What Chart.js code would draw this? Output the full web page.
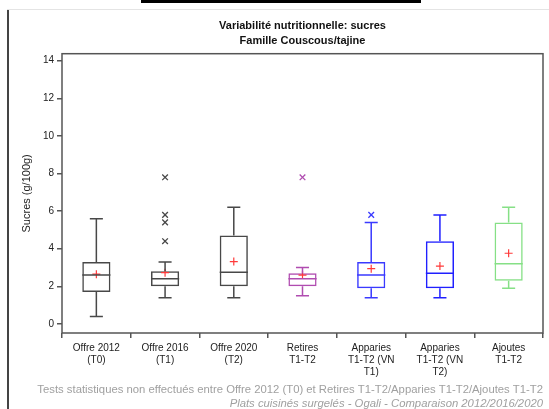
<!DOCTYPE html>
<html>
<head>
<meta charset="utf-8">
<script src="https://cdn.jsdelivr.net/npm/chart.js@4"></script>
<style>
  html, body { margin: 0; padding: 0; background: #fff; }
  #wrap { position: relative; width: 549px; height: 409px; overflow: hidden; }
  #c { position: absolute; left: 0; top: 0; }
  .deco { position: absolute; }
</style>
</head>
<body>
<div id="wrap">
  <canvas id="c" width="549" height="409"></canvas>
  <div class="deco" style="left:141px;top:0;width:280px;height:3px;background:#000;"></div>
  <div class="deco" style="left:7px;top:9px;width:542px;height:1px;background:#e4e4e4;"></div>
  <div class="deco" style="left:7px;top:10px;width:2px;height:399px;background:#444;"></div>
</div>
<script>
// ---- Data ----
const categories = ['Offre 2012 (T0)', 'Offre 2016 (T1)', 'Offre 2020 (T2)', 'Retires T1-T2',
                    'Apparies T1-T2 (VN T1)', 'Apparies T1-T2 (VN T2)', 'Ajoutes T1-T2'];
const tickLines = [['Offre 2012', '(T0)'], ['Offre 2016', '(T1)'], ['Offre 2020', '(T2)'],
                   ['Retires', 'T1-T2'], ['Apparies', 'T1-T2 (VN', 'T1)'], ['Apparies', 'T1-T2 (VN', 'T2)'],
                   ['Ajoutes', 'T1-T2']];
const whiskerLow  = [0.4, 1.4, 1.4, 1.5, 1.4, 1.4, 1.9];
const q1          = [1.7, 2.0, 2.0, 2.0, 1.9, 1.9, 2.3];
const median      = [2.6, 2.4, 2.75, 2.4, 2.6, 2.7, 3.2];
const q3          = [3.3, 2.8, 4.7, 2.7, 3.3, 4.4, 5.4];
const whiskerHigh = [5.6, 3.3, 6.2, 3.0, 5.4, 5.8, 6.2];
const means       = [2.65, 2.73, 3.32, 2.6, 2.94, 3.08, 3.76];
const outlierCat  = [1, 1, 1, 1, 3, 4];
const outlierVal  = [7.8, 5.8, 5.4, 4.4, 7.8, 5.8];
const boxColors   = ['#484848', '#484848', '#484848', '#b04cb0', '#3a3aff', '#2020ff', '#86e086'];
const yTicks      = [0, 2, 4, 6, 8, 10, 12, 14];

const FONT = "'Liberation Sans', Arial, sans-serif";

const boxPlugin = {
  id: 'boxParts',
  afterDatasetsDraw(chart) {
    const ctx = chart.ctx, xs = chart.scales.x, ys = chart.scales.y;
    const cat = (xs.getPixelForValue(1) - xs.getPixelForValue(0));
    const halfBox = cat * 0.41 / 2, halfCap = cat * 0.095;
    ctx.save();
    categories.forEach((c, i) => {
      const x = xs.getPixelForValue(i);
      ctx.strokeStyle = boxColors[i];
      ctx.lineWidth = 1.5;
      ctx.beginPath();
      ctx.moveTo(x, ys.getPixelForValue(q1[i])); ctx.lineTo(x, ys.getPixelForValue(whiskerLow[i]));
      ctx.moveTo(x, ys.getPixelForValue(q3[i])); ctx.lineTo(x, ys.getPixelForValue(whiskerHigh[i]));
      ctx.moveTo(x - halfCap, ys.getPixelForValue(whiskerLow[i])); ctx.lineTo(x + halfCap, ys.getPixelForValue(whiskerLow[i]));
      ctx.moveTo(x - halfCap, ys.getPixelForValue(whiskerHigh[i])); ctx.lineTo(x + halfCap, ys.getPixelForValue(whiskerHigh[i]));
      ctx.moveTo(x - halfBox, ys.getPixelForValue(median[i])); ctx.lineTo(x + halfBox, ys.getPixelForValue(median[i]));
      ctx.stroke();
    });
    ctx.restore();
  }
};

const framePlugin = {
  id: 'frame',
  afterDraw(chart) {
    const ctx = chart.ctx, a = chart.chartArea;
    ctx.save();
    ctx.strokeStyle = '#555';
    ctx.lineWidth = 1.5;
    ctx.strokeRect(a.left, a.top, a.right - a.left, a.bottom - a.top);
    ctx.fillStyle = '#a0a0a0';
    ctx.textAlign = 'right';
    ctx.textBaseline = 'middle';
    ctx.font = '11.3px ' + FONT;
    ctx.fillText('Tests statistiques non effectués entre Offre 2012 (T0) et Retires T1-T2/Apparies T1-T2/Ajoutes T1-T2', 543, 390);
    ctx.font = 'italic 11.3px ' + FONT;
    ctx.fillText('Plats cuisinés surgelés - Ogali - Comparaison 2012/2016/2020', 543, 404);
    ctx.restore();
  }
};

const datasets = [{
  type: 'bar',
  data: categories.map((c, i) => [q1[i], q3[i]]),
  backgroundColor: 'rgba(255,255,255,0)',
  borderColor: boxColors,
  borderWidth: 1.5,
  borderSkipped: false,
  categoryPercentage: 1,
  barPercentage: 0.41,
  order: 2
}, {
  type: 'line',
  showLine: false,
  data: categories.map((c, i) => ({ x: c, y: means[i] })),
  pointStyle: 'cross',
  pointRadius: 4,
  pointBorderWidth: 1.2,
  pointBorderColor: '#ff3a3a',
  pointBackgroundColor: '#ff3a3a',
  order: 0
}, {
  type: 'line',
  showLine: false,
  data: outlierCat.map((ci, k) => ({ x: categories[ci], y: outlierVal[k] })),
  pointStyle: 'crossRot',
  pointRadius: 4,
  pointBorderWidth: 1.3,
  pointBorderColor: outlierCat.map(ci => boxColors[ci]),
  pointBackgroundColor: outlierCat.map(ci => boxColors[ci]),
  order: 1
}];

new Chart(document.getElementById('c'), {
  data: { labels: categories, datasets },
  options: {
    responsive: false,
    animation: false,
    devicePixelRatio: 1,
    layout: { padding: { top: 16, right: 6, bottom: 24, left: 0 } },
    plugins: {
      legend: { display: false },
      tooltip: { enabled: false },
      title: {
        display: true,
        fullSize: false,
        text: ['Variabilité nutritionnelle: sucres', 'Famille Couscous/tajine'],
        color: '#111',
        font: { family: FONT, size: 11, weight: 'bold', lineHeight: 1.35 },
        padding: { top: 3, bottom: 5 }
      }
    },
    scales: {
      x: {
        type: 'category',
        offset: true,
        grid: { display: true, drawOnChartArea: false, drawTicks: true, tickLength: 5, color: '#555', lineWidth: 1.5 },
        border: { display: false },
        ticks: {
          color: '#222', font: { family: FONT, size: 10 }, padding: 4,
          maxRotation: 0, autoSkip: false,
          callback: (v, i) => tickLines[i]
        },
        afterFit: s => { s.height = 52; }
      },
      y: {
        type: 'linear',
        min: -0.48, max: 14.37,
        grid: { display: true, drawOnChartArea: false, drawTicks: true, tickLength: 5, color: '#555', lineWidth: 1.5 },
        border: { display: false },
        afterBuildTicks: s => { s.ticks = yTicks.map(v => ({ value: v })); },
        ticks: { color: '#222', font: { family: FONT, size: 10 }, padding: 3 },
        title: { display: true, text: 'Sucres (g/100g)', color: '#222', font: { family: FONT, size: 11 }, padding: { top: 20, bottom: 0 } },
        afterFit: s => { s.width = 62; }
      }
    }
  },
  plugins: [boxPlugin, framePlugin]
});
</script>
</body>
</html>
